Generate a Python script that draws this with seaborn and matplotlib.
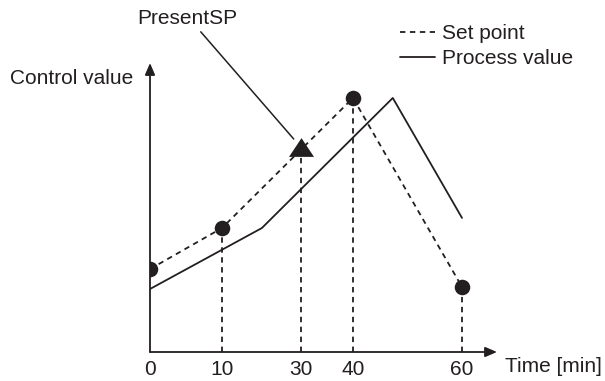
import numpy as np
import matplotlib
matplotlib.use("Agg")
import matplotlib.pyplot as plt
import seaborn as sns

# set point profile (time in minutes, control value in % of axis height)
set_minutes = [0, 10, 40, 60]
set_values = [28.7, 42.9, 87.9, 22.5]
present_minute = [30]
present_value = [70.8]
process_minutes = [0, 20.1, 47.3, 60]
process_values = [21.8, 42.9, 87.9, 46.4]
tick_minutes = [0, 10, 30, 40, 60]

INK = "#231f20"

sns.set_style("white")
plt.rcParams["font.family"] = ["Liberation Sans", "DejaVu Sans"]

# the schematic time axis is not drawn to a uniform scale
scale_min = [0, 10, 30, 40, 60, 70]
scale_pos = [0, 72, 151, 203, 312, 366.5]


def fwd(t):
    return np.interp(t, scale_min, scale_pos)


def inv(p):
    return np.interp(p, scale_pos, scale_min)


fig = plt.figure(figsize=(6.05, 3.81), dpi=100)
ax = fig.add_axes([150 / 605, 29 / 381, 347 / 605, 289 / 381])
ax.set_xscale("function", functions=(fwd, inv))
ax.set_xlim(0, inv(347))
ax.set_ylim(0, 100)

dash = (0, (3, 2.5))
sns.lineplot(x=set_minutes, y=set_values, ax=ax, color=INK, lw=1.3,
             linestyle=dash, label="Set point")
sns.lineplot(x=process_minutes, y=process_values, ax=ax, color=INK, lw=1.3,
             label="Process value")

# drop lines from each set point to the time axis
drop_x = set_minutes[1:] + present_minute
drop_y = set_values[1:] + present_value
ax.vlines(drop_x, 0, drop_y, colors=INK, lw=1.3, linestyles=dash)

sns.scatterplot(x=set_minutes, y=set_values, ax=ax, color=INK, s=125,
                linewidth=0, zorder=4, legend=False)
sns.scatterplot(x=present_minute, y=present_value, ax=ax, color=INK, s=324,
                marker=[(0, 0.75), (-1, -0.75), (1, -0.75)], linewidth=0,
                zorder=4, legend=False)

ax.annotate("PresentSP", xy=(present_minute[0], present_value[0]),
            xytext=(187 / 605, 1 - 18 / 381), textcoords="figure fraction",
            ha="center", va="center", fontsize=15, color=INK,
            arrowprops=dict(arrowstyle="-", color=INK, lw=1.1, shrinkA=1,
                            shrinkB=8, relpos=(0.6, 0)))

# axes drawn as arrows
for end in [(0, 1), (1, 0)]:
    ax.annotate("", xy=end, xytext=(0, 0), xycoords="axes fraction",
                arrowprops=dict(arrowstyle="-|>,head_length=0.7,head_width=0.3",
                                color=INK, lw=1.3, shrinkA=0, shrinkB=0,
                                mutation_scale=10))
sns.despine(ax=ax, left=True, bottom=True)

ax.set_xticks(tick_minutes)
ax.set_xticklabels([str(t) for t in tick_minutes])
ax.set_yticks([])
ax.tick_params(axis="x", length=0, pad=6, labelsize=15, colors=INK)
ax.set_xlabel("")
ax.set_ylabel("")

ax.legend(loc="center left", bbox_to_anchor=(400 / 605, 1 - 46 / 381),
          bbox_transform=fig.transFigure, frameon=False, fontsize=15,
          handlelength=1.7, handletextpad=0.3, labelspacing=0.3,
          borderpad=0, borderaxespad=0, labelcolor=INK)

fig.text(10 / 605, 1 - 79 / 381, "Control value", fontsize=15, color=INK,
         ha="left", va="center")
fig.text(505 / 605, 1 - 366 / 381, "Time [min]", fontsize=15, color=INK,
         ha="left", va="center")

fig.savefig("out.png", dpi=100)
